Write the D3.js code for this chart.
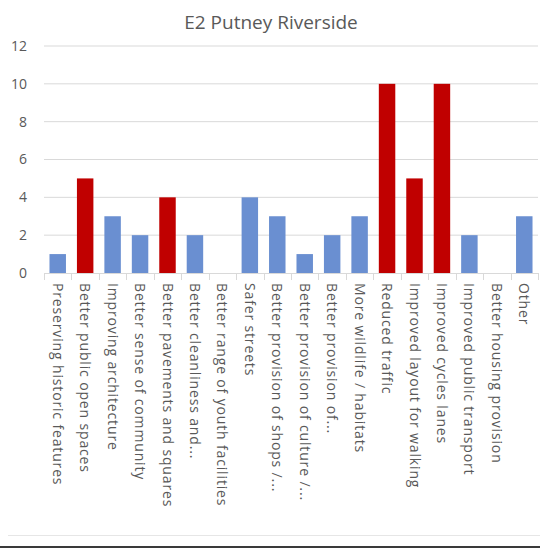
<!DOCTYPE html>
<html>
<head>
<meta charset="utf-8">
<script src="https://cdn.jsdelivr.net/npm/d3@7"></script>
<style>
  html, body { margin: 0; padding: 0; background: #fff; }
  svg { display: block; }
  text { font-family: "Open Sans", "Segoe UI", sans-serif; fill: #595959; }
</style>
</head>
<body>
<div id="chart"></div>
<script>
const title = "E2 Putney Riverside";
const categories = [
  "Preserving historic features",
  "Better public open spaces",
  "Improving architecture",
  "Better sense of community",
  "Better pavements and squares",
  "Better cleanliness and...",
  "Better range of youth facilities",
  "Safer streets",
  "Better provision of shops /...",
  "Better provision of culture /...",
  "Better provision of...",
  "More wildlife / habitats",
  "Reduced traffic",
  "Improved layout for walking",
  "Improved cycles lanes",
  "Improved public transport",
  "Better housing provision",
  "Other"
];
const values = [1, 5, 3, 2, 4, 2, 0, 4, 3, 1, 2, 3, 10, 5, 10, 2, 0, 3];
const highlighted = [false, true, false, false, true, false, false, false, false, false, false, false, true, true, true, false, false, false];
const yTicks = [0, 2, 4, 6, 8, 10, 12];

const W = 540, H = 551;
const mLeft = 44, mRight = 538, mTop = 46, mBottom = 273;

const svg = d3.select("#chart").append("svg").attr("width", W).attr("height", H);

const x = d3.scaleBand().domain(categories).range([mLeft, mRight]).paddingInner(0.4).paddingOuter(0.2);
const xb = d3.scaleBand().domain(categories).range([mLeft, mRight]);
const y = d3.scaleLinear().domain([0, 12]).range([mBottom, mTop]);

// title
svg.append("text").attr("x", 271).attr("y", 29).attr("text-anchor", "middle")
  .style("font-size", "19px").text(title);

// gridlines
svg.append("g").selectAll("line").data(yTicks.filter(d => d > 0)).join("line")
  .attr("x1", mLeft).attr("x2", mRight)
  .attr("y1", d => y(d)).attr("y2", d => y(d))
  .attr("stroke", "#d9d9d9").attr("stroke-width", 1);

// y axis labels
const yAxis = d3.axisLeft(y).tickValues(yTicks).tickSize(0).tickPadding(17);
const gy = svg.append("g").attr("transform", `translate(${mLeft},0)`).call(yAxis);
gy.select(".domain").remove();
gy.selectAll("text").style("font-size", "14px").style("fill", "#595959")
  .style("font-family", '"Open Sans", sans-serif');

// bars
svg.append("g").selectAll("rect").data(values).join("rect")
  .attr("x", (d, i) => x(categories[i]))
  .attr("width", x.bandwidth())
  .attr("y", d => y(d))
  .attr("height", d => y(0) - y(d))
  .attr("fill", (d, i) => highlighted[i] ? "#c00000" : "#6a8fd1");

// x axis line and ticks
svg.append("line").attr("x1", mLeft).attr("x2", mRight).attr("y1", mBottom + 0.5).attr("y2", mBottom + 0.5)
  .attr("stroke", "#d9d9d9");
const bounds = categories.map(c => xb(c)).concat([mRight]);
svg.append("g").selectAll("line").data(bounds).join("line")
  .attr("x1", d => Math.round(d) + 0.5).attr("x2", d => Math.round(d) + 0.5)
  .attr("y1", mBottom).attr("y2", mBottom + 7)
  .attr("stroke", "#d9d9d9");

// x labels rotated
svg.append("g").selectAll("text").data(categories).join("text")
  .attr("transform", d => `translate(${xb(d) + xb.bandwidth() / 2},283) rotate(90)`)
  .attr("text-anchor", "start")
  .attr("dy", "0.35em")
  .style("font-size", "14px")
  .style("letter-spacing", "0.85px")
  .text(d => d);

// bottom lines
svg.append("line").attr("x1", 8).attr("x2", W).attr("y1", 535.5).attr("y2", 535.5).attr("stroke", "#e6e6e6");
svg.append("line").attr("x1", 0).attr("x2", W).attr("y1", 547).attr("y2", 547).attr("stroke", "#3a3a3a").attr("stroke-width", 2);
</script>
</body>
</html>
